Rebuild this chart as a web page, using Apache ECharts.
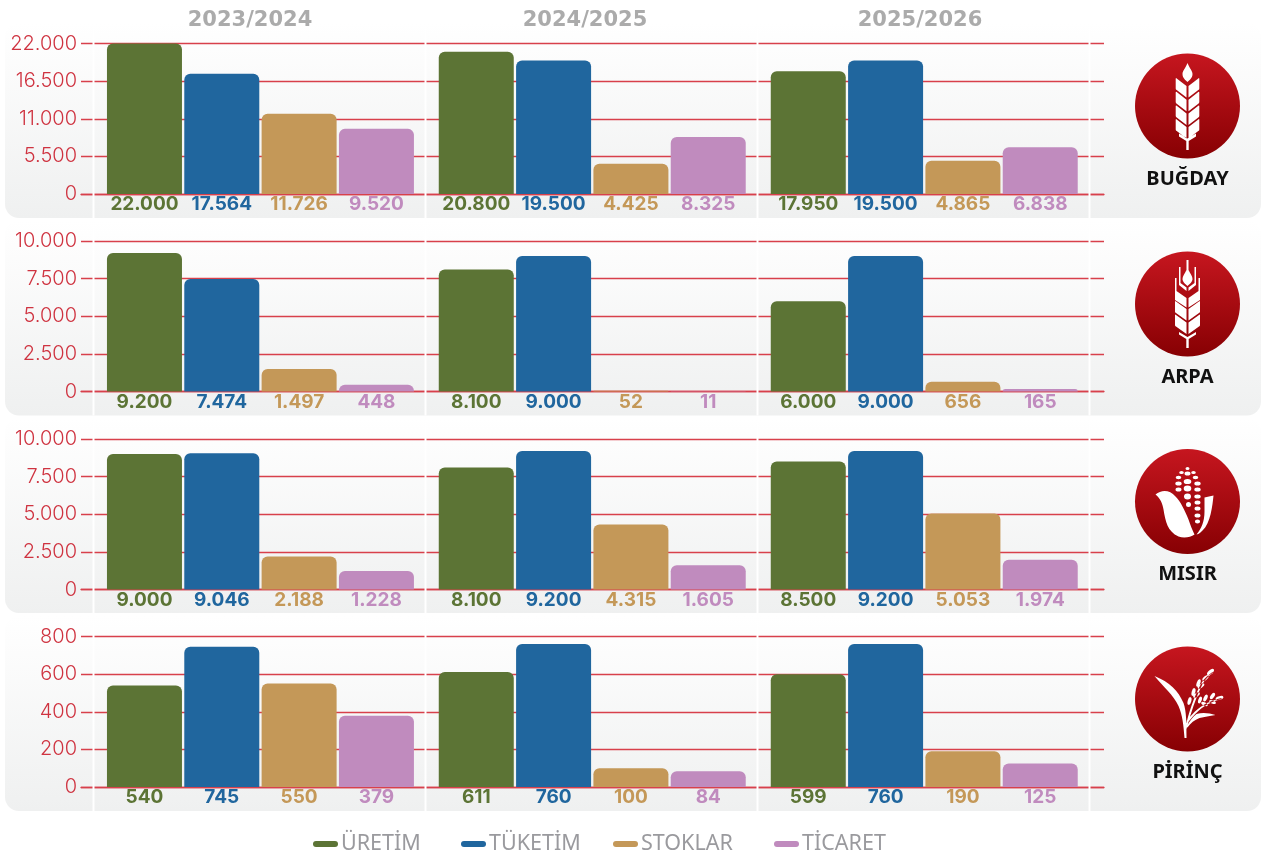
<!DOCTYPE html>
<html><head><meta charset="utf-8">
<style>html,body{margin:0;padding:0;background:#fff}#c{width:1265px;height:853px}</style>
<script src="https://cdn.jsdelivr.net/npm/echarts@6/dist/echarts.min.js"></script></head>
<body><div id="c"></div>
<script>
const years = ['2023/2024','2024/2025','2025/2026'];
const crops = ['BUĞDAY','ARPA','MISIR','PİRİNÇ'];
const seriesNames = ['ÜRETİM','TÜKETİM','STOKLAR','TİCARET'];
const seriesColors = ['#5c7435','#20669e','#c49858','#c08bbe'];
// rows: crop, columns: year
const uretim  = [[22000,20800,17950],[9200,8100,6000],[9000,8100,8500],[540,611,599]];
const tuketim = [[17564,19500,19500],[7474,9000,9000],[9046,9200,9200],[745,760,760]];
const stoklar = [[11726,4425,4865],[1497,52,656],[2188,4315,5053],[550,100,190]];
const ticaret = [[9520,8325,6838],[448,11,165],[1228,1605,1974],[379,84,125]];
const axisMax = [22000,10000,10000,800];
const axisStep = [5500,2500,2500,200];

const allSeries = [uretim,tuketim,stoklar,ticaret];
const rowTop = [43.5,241,439,636.5], rowH = 150.5;
const colLeft = [105.7,437.5,769.5], colW = 309.5;
const panelBottom = [218,415.5,613,811], panelH = 195;
const iconY = [106,304,501.5,699];
const legendLeft = [308,456,608,769];
const RED = '#d8404b';
const fmt = v => String(v).replace(/\B(?=(\d{3})+$)/g,'.');

const grid=[],xAxis=[],yAxis=[],series=[];
crops.forEach((c,r)=>{
  const bg=grid.length;
  grid.push({left:81,width:1023,top:rowTop[r],height:rowH});
  xAxis.push({type:'category',gridIndex:bg,data:[''],axisLine:{show:true,onZero:true,lineStyle:{color:RED,width:1.3}},axisTick:{show:false},axisLabel:{show:false}});
  yAxis.push({type:'value',gridIndex:bg,min:0,max:axisMax[r],interval:axisStep[r],
    axisLine:{show:false},axisTick:{show:false},
    axisLabel:{margin:4,color:'#cf3340',fontSize:20,fontFamily:'Inter',fontWeight:300,padding:[4,0,0,0],formatter:fmt},
    splitLine:{show:true,showMinLine:true,showMaxLine:true,lineStyle:{color:RED,width:1.3}}});
  years.forEach((y,k)=>{
    const g=grid.length;
    grid.push({left:colLeft[k],width:colW,top:rowTop[r],height:rowH});
    xAxis.push({type:'category',gridIndex:g,data:[y],show:false});
    yAxis.push({type:'value',gridIndex:g,min:0,max:axisMax[r],interval:axisStep[r],show:false,splitLine:{show:false}});
    seriesNames.forEach((n,s)=>{
      series.push({type:'bar',name:n,xAxisIndex:g,yAxisIndex:g,data:[allSeries[s][r][k]],
        barWidth:75,barGap:'3.1%',silent:true,
        itemStyle:{color:seriesColors[s],borderRadius:[6,6,0,0]},
        label:{show:true,position:'bottom',distance:1,color:seriesColors[s],fontFamily:'Inter',fontWeight:700,fontSize:19,formatter:p=>fmt(p.value)}});
    });
  });
});

// icon path helpers
const ell=(cx,cy,rx,ry,rot=0)=>{const c=Math.cos(rot*Math.PI/180)*rx,s=Math.sin(rot*Math.PI/180)*rx;
  return `M${cx-c} ${cy-s}A${rx} ${ry} ${rot} 1 0 ${cx+c} ${cy+s}A${rx} ${ry} ${rot} 1 0 ${cx-c} ${cy-s}Z`;};
const kernelPair=(dy,w=11.8)=>{
  const side=m=>`M${m} ${dy}L${m*(w-1)} ${dy-7.6}Q${m*w} ${dy-8.4} ${m*w} ${dy-7}L${m*w} ${dy+2.4}Q${m*w} ${dy+3.4} ${m*(w-1)} ${dy+4}L${m} ${dy+11.5}Z`;
  return side(-1)+side(1);
};
const wheat='M0 -43C-2 -38 -5 -35 -5 -32C-5 -28 -2 -26 0 -24C2 -26 5 -28 5 -32C5 -35 2 -38 0 -43Z'
  +[-20,-6.3,7.4,21].map(d=>kernelPair(d)).join('')
  +'M-1.2 44L-1.2 35L-8.5 30.5L-8.5 27.5L0 32.5L8.5 27.5L8.5 30.5L1.2 35L1.2 44Z';
const barley='M-1 -44L1 -44L1 -34C3 -30 5 -28 5 -25C5 -22 2 -20 0 -18C-2 -20 -5 -22 -5 -25C-5 -28 -3 -30 -1 -34Z'
  +'M-8.5 -37L-7 -37L-7 -21L-1 -16.5L-1 -13L-8.5 -19Z M8.5 -37L7 -37L7 -21L1 -16.5L1 -13L8.5 -19Z'
  +'M-12.5 -26L-11 -26L-11 -13L-1 -6L-1 3.5L-12.5 -4Z M12.5 -26L11 -26L11 -13L1 -6L1 3.5L12.5 -4Z'
  +[5,18.5].map(d=>kernelPair(d,12.5)).join('')
  +'M-1.2 44L-1.2 35L-8.5 30.5L-8.5 28L0 33L8.5 28L8.5 30.5L1.2 35L1.2 44Z';
const cornDots=[[0,-33,2,1.5],[0,-28,3,2],[0,-20,3.8,2.6],[0,-13,3.8,3],[0,-5,3.5,3],[1,3,2.5,2.5],
  [-6,-29,2.3,1.6],[-9,-24,2.8,1.8],[-9,-18,3.2,2],[-9,-12,3,2],
  [6,-29,2.3,1.6],[8,-24,2.8,1.8],[10,-18,3.2,2],[10,-12,3.2,2],[10,-5,3.2,2],[10,1,3,2],[10,7,3,2],[10,14,3,2],[10,20,2.6,2]]
  .map(d=>ell(...d)).join('');
const corn=cornDots
  +'M-32 -7C-26 -12 -18 -12 -12 -5C-7 0 -3 8 1 18C3 24 5 29 7 33C3 36 -4 37 -9 35C-20 30 -22 20 -24 8C-25 2 -27 -3 -32 -7Z'
  +'M26 -6C25 4 23 22 15 29C12 32 10 33 9 33C14 27 17 20 17 10C17 4 17 -2 17 -4Z';
const rice='M-33 -23C-18 -17 -9 -8 -4 4C-1 12 -1 25 -1 39L-3 39C-4 26 -5 16 -9 7C-14 -4 -24 -12 -33 -23Z'
  +'M-2 28C1 15 6 -2 14 -16C17 -21 21 -24 25 -27L25.5 -26C21 -23 18 -20 15 -15C8 -1 3 15 -1 30Z'
  +'M-1 22C6 13 14 6 22 3C26 1 30 0 34 -1L34 0C30 1 26 2 23 4C15 7 7 15 0 24Z'
  +'M-1 28C2 22 5 18 9 15C15 13 22 14 28 16C22 17 17 18 12 19C7 21 3 24 0 28.5Z'
  +[[2,2,4,1.8,-75],[6,-7,4,1.8,-75],[11,-16,4,1.8,-70],[9,-4,3.8,1.8,-35],[13.5,-13,3.8,1.8,-35],[18,-21,3.8,1.8,-40],[23,-27,4.2,2,-40],
    [12.5,1,3.5,1.7,-70],[18,-1,3.6,1.8,-65],[17,5,3.5,1.7,25],[25,-3,3.6,1.8,-55],[25,3,3.5,1.7,20],[32,-1,4,1.8,-15]]
   .map(d=>ell(...d)).join('');
const icons=[wheat,barley,corn,rice];

const graphic=[];
crops.forEach((c,r)=>{
  graphic.push({type:'rect',z:-10,silent:true,shape:{x:5,y:panelBottom[r]-panelH,width:1256,height:panelH,r:14},
    style:{fill:new echarts.graphic.LinearGradient(0,0,0,1,[{offset:0,color:'#ffffff'},{offset:1,color:'#eff0f0'}])}});
  [93.5,425.5,757.5,1089.5].forEach(x=>graphic.push({type:'rect',z:1,silent:true,
    shape:{x:x-1,y:panelBottom[r]-panelH,width:2,height:panelH},style:{fill:'#ffffff'}}));
  graphic.push({type:'circle',z:1,silent:true,shape:{cx:1187.5,cy:iconY[r],r:52.5},
    style:{fill:new echarts.graphic.LinearGradient(0,0,0,1,[{offset:0,color:'#c6161f'},{offset:1,color:'#870003'}])}});
  graphic.push({type:'text',z:2,silent:true,x:1187.5,y:iconY[r]+73,
    style:{text:c,fill:'#111111',font:'700 20px "Noto Sans"',textAlign:'center',textVerticalAlign:'middle'}});
});
// crop icons: white glyphs on the red discs
series.push({type:'custom',coordinateSystem:'none',silent:true,z:5,data:[0,1,2,3],
  renderItem:(p,api)=>({type:'path',x:1187.5,y:iconY[p.dataIndex],
    shape:{pathData:icons[p.dataIndex]},style:{fill:'#ffffff'}})});

const title=years.map((y,k)=>({text:y,left:[245,580,915][k],top:5,textAlign:'center',
  textStyle:{color:'#ababab',fontFamily:'DejaVu Sans',fontWeight:700,fontSize:21}}));

const legend=seriesNames.map((n,i)=>({data:[n],selectedMode:false,left:legendLeft[i],top:828,itemWidth:25,itemHeight:6,
  icon:'path://M3 0H22A3 3 0 0 1 22 6H3A3 3 0 0 1 3 0Z',
  textStyle:{color:'#9a9a9e',fontFamily:'Noto Sans',fontSize:21.5,padding:[0,0,0,-2]}}));

const chart=echarts.init(document.getElementById('c'),null,{renderer:'canvas'});
chart.setOption({animation:false,backgroundColor:'#ffffff',title,grid,xAxis,yAxis,series,graphic,legend});
</script></body></html>
